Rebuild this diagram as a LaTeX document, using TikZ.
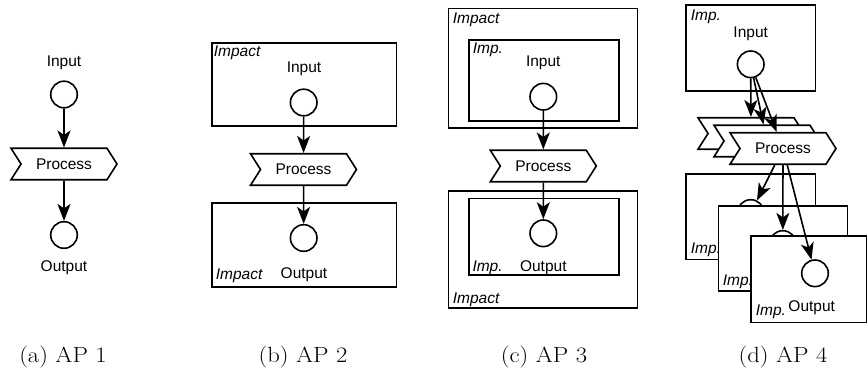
\documentclass[tikz,border=0pt]{standalone}
\usepackage{fontspec}
\usepackage{graphicx}
\newfontfamily\arialf{Liberation Sans}
\usetikzlibrary{shapes.symbols,arrows.meta}
\tikzset{
  txt/.style={font=\arialf\fontsize{15.5}{18}\selectfont, inner sep=0pt},
  implbl/.style={font=\arialf\itshape\fontsize{15.5}{18}\selectfont, inner sep=0pt, anchor=west},
  dot/.style={circle, draw, fill=white, minimum size=26.6pt, inner sep=0pt},
  proc/.style={signal, signal from=west, signal to=east, signal pointer angle=115,
    draw, fill=white, minimum width=106pt, minimum height=31.5pt, inner sep=0pt, txt},
  frame/.style={draw, fill=white},
  arr/.style={-{Stealth[length=17pt,width=13pt,inset=4.5pt]}},
  captxt/.style={font=\fontsize{22}{26}\selectfont, inner sep=0pt}
}
\begin{document}
\begin{tikzpicture}[x=1pt,y=-1pt,line width=1.6pt]
\useasboundingbox (0,0) rectangle (868,375);

% ---------- (a)
\node[txt] (la) at (64,63) {Input};
\node[dot] (ia) at (64,94.5) {};
\node[proc] (pa) at (64,164) {Process};
\node[dot] (oa) at (64,235) {};
\node[txt] (loa) at (64,268) {Output};
\draw[arr] (ia) -- (pa);
\draw[arr] (pa) -- (oa);
\node[captxt] (capa) at (63,357) {\scalebox{1.12}[1]{(a) AP 1}};

% ---------- (b)
\draw[frame] (211.7,42.7) rectangle (396.5,126);
\node[implbl] (ib1) at (213,53) {Impact};
\node[txt] (lb) at (304,69) {Input};
\node[dot] (ib) at (303.7,102.5) {};
\draw[frame] (211.7,202.7) rectangle (396.5,286.7);
\node[dot] (ob) at (303.7,238) {};
\node[implbl] (ib2) at (215,276) {Impact};
\node[txt] (lob) at (304,275) {Output};
\node[proc] (pb) at (303.5,169.5) {Process};
\draw[arr] (ib) -- (pb);
\draw[arr] (pb) -- (ob);
\node[captxt] (capb) at (303,357) {\scalebox{1.12}[1]{(b) AP 2}};

% ---------- (c)
\draw[frame] (448.3,8.3) rectangle (637.3,127.7);
\node[implbl] (ic1) at (452,20) {Impact};
\draw[frame] (469,40) rectangle (618.7,120.7);
\node[implbl] (ic2) at (472,50) {Imp.};
\node[txt] (lc) at (543.3,63) {Input};
\node[dot] (ic) at (543.3,96.7) {};
\draw[frame] (448.3,191) rectangle (637.3,308);
\draw[frame] (469,198.3) rectangle (618.7,275);
\node[dot] (oc) at (543.3,233.3) {};
\node[implbl] (ic3) at (471.7,268) {Imp.};
\node[txt] (loc) at (543.3,268) {Output};
\node[implbl] (ic4) at (452,300) {Impact};
\node[proc] (pc) at (543.3,166) {Process};
\draw[arr] (ic) -- (pc);
\draw[arr] (pc) -- (oc);
\node[captxt] (capc) at (544,357) {\scalebox{1.12}[1]{(c) AP 3}};

% ---------- (d)
\draw[frame] (686,4.7) rectangle (815.3,90.7);
\node[implbl] (id1) at (690,17) {Imp.};
\node[txt] (ld) at (750.7,33.3) {Input};
\node[dot] (id) at (750.7,64.3) {};
\node[proc] (pd1) at (751,133.5) {};
\node[proc] (pd2) at (767,141) {};
\node[proc] (pd3) at (783,148.5) {Process};
\draw[frame] (686,174) rectangle (815.3,259.3);
\node[dot] (od1) at (750.7,213) {};
\node[implbl] (id2) at (690,250) {Imp.};
\draw[frame] (718.3,205.7) rectangle (847.3,290.7);
\node[dot] (od2) at (782.8,244) {};
\node[implbl] (id3) at (722,281.7) {Imp.};
\draw[frame] (750.7,235.7) rectangle (866.6,322.3);
\node[dot] (od3) at (815,273.3) {};
\node[implbl] (id4) at (755,311.7) {Imp.};
\node[txt] (lod) at (811.7,307.3) {Output};
\draw[arr] (id) -- (pd1);
\draw[arr] (id) -- (pd2);
\draw[arr] (id) -- (pd3);
\draw[arr] (pd3) -- (od1);
\draw[arr] (pd3) -- (od2);
\draw[arr] (pd3) -- (od3);
\node[captxt] (capd) at (783,357) {\scalebox{1.12}[1]{(d) AP 4}};
\end{tikzpicture}
\end{document}
